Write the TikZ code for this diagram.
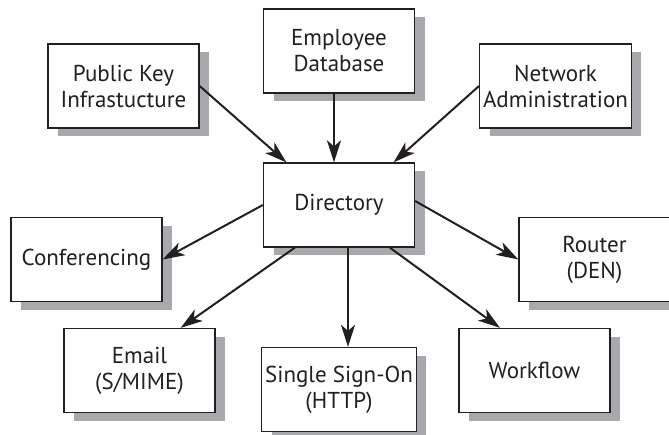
\documentclass[tikz,border=0pt]{standalone}
\usepackage{fontspec}
\setmainfont{PT Sans}
\usetikzlibrary{arrows.meta,shadows}
\definecolor{shadowgray}{HTML}{A7A9AC}
\definecolor{inkgray}{HTML}{231F20}
\begin{document}
\begin{tikzpicture}[
                            x=1pt, y=-1pt,
                            >={Stealth[length=22pt,width=14pt,inset=6pt]},
                            sysbox/.style={rectangle, draw=inkgray, line width=1.3pt, fill=white,
                                minimum width=151pt, minimum height=84pt, align=center,
                                font=\fontsize{23}{26}\selectfont, text=inkgray,
                                drop shadow={shadow xshift=10pt, shadow yshift=-8pt,
                                    fill=shadowgray, opacity=1}},
                            link/.style={->, line width=2pt, draw=inkgray}
                        ]
                        \useasboundingbox (0,0) rectangle (669,434);
                        \clip (0,0) rectangle (669,434);
                        % Blocks
                        \node [sysbox] (pki) at (123.5,86) {Public Key\\Infrastucture};
                        \node [sysbox] (emp) at (339,51) {Employee\\Database};
                        \node [sysbox] (net) at (555.5,86) {Network\\Administration};
                        \node [sysbox] (dir) at (339,205) {Directory};
                        \node [sysbox] (conf) at (86.5,259.5) {Conferencing};
                        \node [sysbox] (router) at (594.5,259.5) {Router\\(DEN)};
                        \node [sysbox] (email) at (139.5,370.5) {Email\\(S/MIME)};
                        \node [sysbox] (sso) at (339,389.5) {Single Sign-On\\(HTTP)};
                        \node [sysbox] (work) at (534.5,370.5) {Workflow};

                        % Connections
                        \draw [link] (pki.east) -- (dir.141);
                        \draw [link] ([xshift=-5pt]emp.south) -- ([xshift=-5pt]dir.north);
                        \draw [link] (net.west) -- (dir.38);
                        \draw [link] (dir.west) -- (conf.east);
                        \draw [link] (dir.224) -- (email.46);
                        \draw [link] ([xshift=9pt]dir.south) -- ([xshift=9pt]sso.north);
                        \draw [link] (dir.320) -- (work.129);
                        \draw [link] (dir.3) -- (router.west);
                    \end{tikzpicture}
\end{document}
